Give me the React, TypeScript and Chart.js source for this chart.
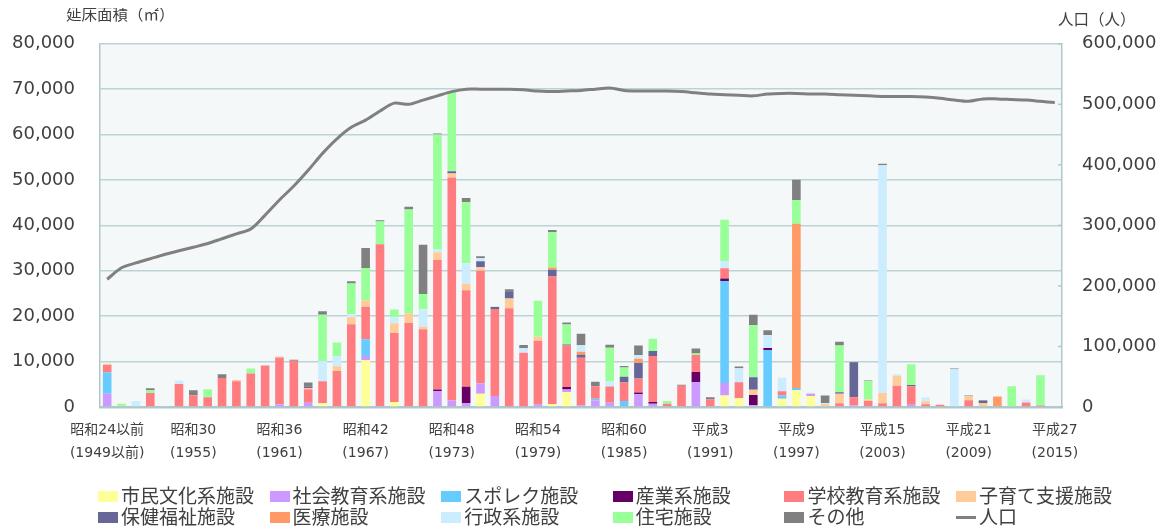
import React, { useEffect, useRef } from 'react';
import { Chart, registerables } from 'chart.js';

Chart.register(...registerables);

const FONT = "'DejaVu Sans', 'Noto Sans CJK JP', sans-serif";
const TEXT = '#404040';
const GRID = '#BCD3D5';
const AXIS = '#AFC8CB';

const categories = [
  '1949以前', '1950', '1951', '1952', '1953', '1954', '1955', '1956', '1957', '1958',
  '1959', '1960', '1961', '1962', '1963', '1964', '1965', '1966', '1967', '1968',
  '1969', '1970', '1971', '1972', '1973', '1974', '1975', '1976', '1977', '1978',
  '1979', '1980', '1981', '1982', '1983', '1984', '1985', '1986', '1987', '1988',
  '1989', '1990', '1991', '1992', '1993', '1994', '1995', '1996', '1997', '1998',
  '1999', '2000', '2001', '2002', '2003', '2004', '2005', '2006', '2007', '2008',
  '2009', '2010', '2011', '2012', '2013', '2014', '2015',
];

const tickCategory = ['1949以前', '1955', '1961', '1967', '1973', '1979', '1985', '1991', '1997', '2003', '2009', '2015'];
const tickEra = ['昭和24以前', '昭和30', '昭和36', '昭和42', '昭和48', '昭和54', '昭和60', '平成3', '平成9', '平成15', '平成21', '平成27'];
const tickYear = ['(1949以前)', '(1955)', '(1961)', '(1967)', '(1973)', '(1979)', '(1985)', '(1991)', '(1997)', '(2003)', '(2009)', '(2015)'];

const shimin = [
  0, 0, 0, 0, 0, 0, 0, 0, 0, 0,
  0, 0, 0, 0, 0, 800, 0, 0, 10300, 0,
  1100, 0, 0, 0, 0, 0, 2900, 0, 0, 0,
  0, 650, 3250, 0, 0, 0, 0, 0, 0, 0,
  0, 0, 0, 2550, 1950, 0, 0, 1800, 3700, 2400,
  0, 0, 0, 0, 0, 0, 0, 0, 0, 0,
  0, 0, 0, 0, 0, 0, 0,
];
const shakai = [
  2900, 0, 0, 0, 0, 0, 0, 0, 0, 0,
  0, 0, 580, 0, 940, 0, 0, 0, 940, 200,
  0, 0, 0, 3500, 1450, 870, 2250, 2400, 0, 0,
  580, 0, 580, 360, 1450, 940, 0, 2830, 720, 0,
  0, 5430, 0, 2750, 0, 360, 0, 0, 0, 500,
  0, 0, 360, 0, 0, 0, 500, 0, 0, 0,
  0, 0, 0, 0, 0, 0, 0,
];
const sports = [
  4700, 0, 0, 0, 0, 0, 0, 0, 0, 0,
  0, 0, 0, 0, 0, 0, 0, 0, 3700, 0,
  0, 0, 0, 0, 0, 0, 0, 0, 0, 0,
  0, 0, 0, 0, 360, 0, 1300, 0, 0, 0,
  0, 0, 0, 22450, 0, 0, 12550, 720, 500, 0,
  0, 0, 0, 0, 0, 0, 0, 0, 0, 0,
  0, 0, 0, 0, 0, 0, 0,
];
const sangyo = [
  0, 0, 0, 0, 0, 0, 0, 0, 0, 0,
  0, 0, 0, 0, 0, 0, 0, 0, 0, 0,
  0, 0, 0, 360, 0, 3600, 0, 0, 0, 0,
  0, 0, 580, 0, 0, 0, 0, 360, 360, 0,
  0, 2300, 0, 580, 0, 2300, 430, 0, 0, 0,
  0, 0, 0, 0, 0, 0, 0, 0, 0, 0,
  0, 0, 0, 0, 0, 0, 0,
];
const gakko = [
  1650, 0, 0, 3100, 0, 5050, 2600, 2150, 6400, 5650,
  7400, 9150, 10350, 10200, 2950, 4850, 7950, 18250, 7150, 35650,
  15200, 18500, 17150, 28500, 49100, 21250, 24850, 19200, 21750, 11950,
  14000, 28100, 9150, 10500, 2750, 3550, 4100, 3100, 10150, 700,
  4700, 3750, 1650, 2250, 3500, 0, 0, 950, 0, 0,
  0, 800, 1800, 1300, 850, 4700, 4050, 600, 500, 0,
  1500, 0, 0, 0, 1000, 350, 0,
];
const kosodate = [
  250, 0, 0, 0, 0, 0, 0, 0, 0, 300,
  0, 0, 220, 0, 290, 0, 1000, 1500, 1450, 0,
  2150, 2150, 500, 1750, 870, 1450, 800, 0, 2150, 0,
  870, 0, 0, 0, 0, 0, 0, 0, 0, 0,
  0, 0, 0, 0, 0, 1150, 0, 0, 0, 0,
  650, 2100, 0, 350, 2250, 2150, 0, 650, 0, 0,
  870, 800, 0, 0, 0, 0, 0,
];
const hoken = [
  0, 0, 0, 0, 0, 0, 0, 0, 0, 0,
  0, 0, 0, 0, 290, 0, 0, 0, 0, 0,
  0, 0, 0, 0, 500, 0, 1300, 430, 1600, 0,
  0, 1500, 220, 650, 0, 0, 1250, 3400, 1100, 0,
  0, 0, 0, 0, 0, 2750, 0, 0, 0, 0,
  0, 350, 7550, 0, 0, 0, 300, 0, 0, 0,
  0, 500, 0, 0, 0, 0, 0,
];
const iryo = [
  0, 0, 0, 0, 0, 0, 0, 0, 0, 0,
  0, 0, 0, 0, 0, 0, 0, 0, 0, 0,
  0, 0, 0, 0, 0, 0, 0, 0, 0, 0,
  0, 500, 0, 650, 0, 0, 0, 950, 0, 0,
  0, 0, 0, 0, 0, 0, 0, 0, 36150, 0,
  0, 0, 0, 0, 0, 0, 0, 0, 0, 0,
  0, 0, 2300, 0, 0, 0, 0,
];
const gyosei = [
  0, 0, 1300, 0, 0, 800, 0, 0, 0, 0,
  0, 0, 0, 0, 0, 4500, 2250, 700, 0, 0,
  1300, 0, 3900, 580, 0, 4500, 650, 220, 0, 1000,
  0, 0, 0, 1450, 0, 1150, 0, 800, 0, 0,
  0, 0, 0, 1600, 3100, 0, 2900, 2950, 0, 220,
  220, 0, 0, 0, 50150, 350, 0, 870, 0, 8300,
  0, 0, 0, 0, 650, 0, 300,
];
const jutaku = [
  0, 700, 0, 600, 200, 0, 0, 1750, 0, 0,
  1100, 0, 0, 0, 0, 10150, 3000, 6750, 7100, 5000,
  1750, 22850, 3350, 25350, 17450, 13500, 0, 0, 0, 0,
  7950, 7800, 4400, 0, 0, 7400, 2050, 0, 2700, 600,
  0, 300, 0, 9050, 0, 11500, 0, 0, 5200, 0,
  0, 10300, 0, 4000, 0, 0, 4550, 0, 0, 0,
  0, 0, 0, 4550, 0, 6650, 0,
];
const sonota = [
  0, 0, 0, 450, 0, 0, 1100, 0, 800, 0,
  0, 0, 0, 200, 950, 800, 0, 500, 4400, 300,
  0, 600, 10850, 200, 0, 850, 450, 0, 450, 700,
  0, 450, 450, 2550, 1000, 650, 350, 2100, 0, 0,
  200, 1100, 500, 0, 350, 2250, 1000, 0, 4500, 0,
  1650, 800, 200, 200, 350, 0, 0, 0, 0, 200,
  150, 200, 0, 0, 0, 0, 0,
];
const population = [
  211000, 230000, 238000, 245000, 252000, 258000, 264000, 270000, 278000, 286000,
  294000, 317000, 342000, 365000, 391000, 419000, 443000, 462000, 474000, 489000,
  502000, 500000, 507000, 514000, 521000, 525000, 525000, 525000, 525000, 524000,
  522000, 521000, 522000, 523000, 525000, 527000, 523000, 522000, 522000, 522000,
  521000, 519000, 517000, 516000, 515000, 514000, 517000, 518000, 518000, 517000,
  517000, 516000, 515000, 514000, 513000, 513000, 513000, 512000, 510000, 507000,
  505000, 509000, 509000, 508000, 507000, 505000, 503000,
];

const seriesNames = ['市民文化系施設', '社会教育系施設', 'スポレク施設', '産業系施設', '学校教育系施設', '子育て支援施設', '保健福祉施設', '医療施設', '行政系施設', '住宅施設', 'その他'];
const seriesColors = ['#FFFF99', '#CC99FF', '#66CCFF', '#660066', '#FF7C80', '#FFCC99', '#666699', '#FF9966', '#CCECFF', '#99FF99', '#808080'];
const seriesData = [shimin, shakai, sports, sangyo, gakko, kosodate, hoken, iryo, gyosei, jutaku, sonota];
const lineName = '人口';
const lineColor = '#808080';

const bgPlugin = {
  id: 'bgPlugin',
  beforeDraw(chart: any) {
    const { ctx, chartArea: a } = chart;
    ctx.save();
    ctx.fillStyle = '#F5F8F9';
    ctx.fillRect(a.left, a.top, a.right - a.left, a.bottom - a.top);
    ctx.restore();
  },
  afterDraw(chart: any) {
    const s = chart.scales.y2;
    const ctx = chart.ctx;
    ctx.save();
    ctx.strokeStyle = AXIS;
    ctx.lineWidth = 1.5;
    s.ticks.forEach((t: any) => {
      const y = s.getPixelForValue(t.value);
      ctx.beginPath();
      ctx.moveTo(s.left - 4, y);
      ctx.lineTo(s.left, y);
      ctx.stroke();
    });
    ctx.restore();
  },
};

export default function App() {
  const ref = useRef<HTMLCanvasElement>(null);

  useEffect(() => {
    document.documentElement.style.overflow = 'hidden';
    document.body.style.overflow = 'hidden';
    const datasets: any[] = seriesNames.map((name, i) => ({
      type: 'bar',
      label: name,
      data: seriesData[i],
      backgroundColor: seriesColors[i],
      borderWidth: 0,
      yAxisID: 'y',
      order: 1,
      barPercentage: 1,
      categoryPercentage: 0.6,
    }));
    datasets.push({
      type: 'line',
      label: lineName,
      data: population,
      borderColor: lineColor,
      backgroundColor: lineColor,
      borderWidth: 3,
      pointRadius: 0,
      tension: 0.3,
      yAxisID: 'y2',
      order: 0,
    });

    const chart = new Chart(ref.current as HTMLCanvasElement, {
      type: 'bar',
      data: { labels: categories, datasets },
      options: {
        responsive: false,
        animation: false,
        layout: { padding: { top: 31, left: 0, right: 0, bottom: 0 } },
        plugins: { legend: { display: false }, tooltip: { enabled: false } },
        scales: {
          x: {
            stacked: true,
            grid: { display: false, drawTicks: false },
            border: { display: true, color: AXIS, width: 2.5 },
            ticks: {
              autoSkip: false,
              maxRotation: 0,
              minRotation: 0,
              padding: 12,
              color: TEXT,
              font: { family: FONT, size: 14, lineHeight: 1.643 },
              callback: (_v: any, index: number) => {
                const k = tickCategory.indexOf(categories[index]);
                return k >= 0 ? [tickEra[k], tickYear[k]] : '';
              },
            },
            afterFit: (s: any) => { s.height = 115; },
          },
          y: {
            stacked: true,
            position: 'left',
            min: 0,
            max: 80000,
            ticks: {
              stepSize: 10000,
              padding: 25,
              color: TEXT,
              font: { family: FONT, size: 18 },
              callback: (v: any) => Number(v).toLocaleString('en-US'),
            },
            grid: { color: GRID, lineWidth: 1.5, drawTicks: false },
            border: { display: true, color: AXIS, width: 1.5 },
            afterFit: (s: any) => { s.width = 92; },
          },
          y2: {
            position: 'right',
            min: 0,
            max: 600000,
            ticks: {
              stepSize: 100000,
              padding: 20,
              color: TEXT,
              font: { family: FONT, size: 18 },
              callback: (v: any) => Number(v).toLocaleString('en-US'),
            },
            grid: { display: false, drawTicks: false },
            border: { display: true, color: AXIS, width: 1.5 },
            afterFit: (s: any) => { s.width = 96; },
          },
        },
      } as any,
      plugins: [bgPlugin],
    });
    return () => chart.destroy();
  }, []);

  const legendItems = [
    ...seriesNames.map((n, i) => ({ name: n, color: seriesColors[i], line: false })),
    { name: lineName, color: lineColor, line: true },
  ];

  return (
    <div style={{ position: 'relative', width: 1150, height: 522, fontFamily: FONT, color: TEXT }}>
      <canvas ref={ref} width={1150} height={514} style={{ display: 'block' }} />
      <div style={{ position: 'absolute', left: 58, top: -1, fontSize: 15.5, lineHeight: '16px', whiteSpace: 'nowrap' }}>延床面積（㎡）</div>
      <div style={{ position: 'absolute', left: 1050, top: 4, fontSize: 15.5, lineHeight: '16px', whiteSpace: 'nowrap' }}>人口（人）</div>
      {legendItems.map((it, k) => {
        const r = Math.floor(k / 6);
        const c = k % 6;
        return (
          <div
            key={it.name}
            style={{
              position: 'absolute',
              left: 90 + c * 171.6,
              top: 488 + r * 21 - 10,
              height: 20,
              display: 'flex',
              alignItems: 'center',
              whiteSpace: 'nowrap',
              fontSize: 19,
              lineHeight: '20px',
            }}
          >
            <span
              style={{
                display: 'inline-block',
                width: 20,
                height: it.line ? 3 : 11,
                background: it.color,
                marginRight: 3,
                flex: 'none',
              }}
            />
            <span>{it.name}</span>
          </div>
        );
      })}
    </div>
  );
}
